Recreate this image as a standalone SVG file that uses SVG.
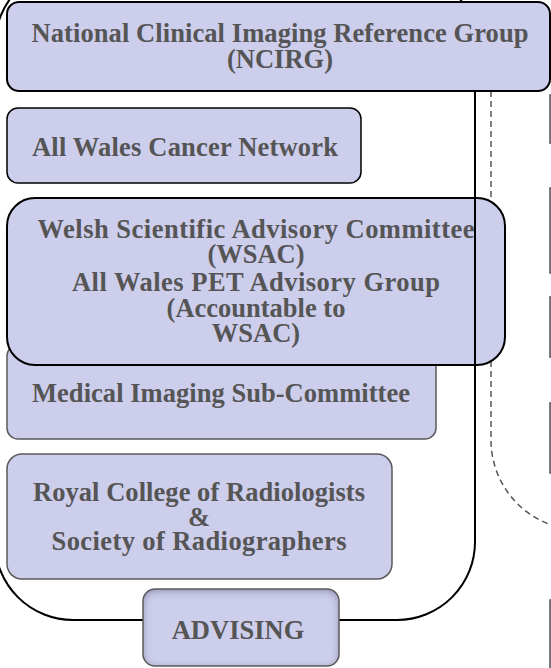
<svg xmlns="http://www.w3.org/2000/svg" width="551" height="668" viewBox="0 0 551 668">
  <style>
    .box { fill: #cdcdec; }
    .dark { stroke: #000; stroke-width: 2; }
    .gray { stroke: #5a5a5a; stroke-width: 1.5; }
    .lbl { font-family: "Liberation Serif", "Times New Roman", serif; font-weight: bold; font-size: 26.5px; fill: #555; text-anchor: middle; }
    .edge { fill: #cdcdec; stroke: #555; stroke-width: 1.5; }
  </style>
  <defs>
    <filter id="inset" x="-10%" y="-10%" width="120%" height="120%">
      <feGaussianBlur in="SourceAlpha" stdDeviation="4" result="blur"/>
      <feOffset in="blur" dy="2" result="oblur"/>
      <feComposite in="SourceAlpha" in2="oblur" operator="arithmetic" k2="1" k3="-1" result="ring"/>
      <feFlood flood-color="#4a4a78" flood-opacity="0.7"/>
      <feComposite in2="ring" operator="in" result="shadow"/>
      <feMerge><feMergeNode in="SourceGraphic"/><feMergeNode in="shadow"/></feMerge>
    </filter>
  </defs>

  <g id="connectors">
    <path id="dashed-boundary" d="M491,91 V440 A90,90 0 0 0 581,530" fill="none" stroke="#555" stroke-width="1.5" stroke-dasharray="6,4"/>
  </g>

  <g id="offscreen-right">
    <rect class="edge" x="550" y="95" width="40" height="48"/>
    <rect class="edge" x="550" y="188" width="40" height="85"/>
    <rect class="edge" x="550" y="297" width="40" height="60"/>
    <rect class="edge" x="550" y="403" width="40" height="70"/>
    <rect class="edge" x="550" y="600" width="40" height="80"/>
  </g>

  <g id="awcn">
    <rect class="box dark" x="7" y="108" width="354" height="75" rx="11" style="stroke-width:1.5"/>
    <text class="lbl" x="185" y="156" textLength="306" lengthAdjust="spacing">All Wales Cancer Network</text>
  </g>

  <g id="misc">
    <rect class="box gray" x="7" y="345" width="429" height="94" rx="11"/>
    <text class="lbl" x="221" y="402" textLength="378" lengthAdjust="spacing">Medical Imaging Sub-Committee</text>
  </g>

  <g id="rcr">
    <rect class="box gray" x="7" y="454" width="385" height="125" rx="15"/>
    <text class="lbl" x="199" y="501" textLength="332" lengthAdjust="spacing">Royal College of Radiologists</text>
    <text class="lbl" x="199" y="526">&amp;</text>
    <text class="lbl" x="199" y="550" textLength="295" lengthAdjust="spacing">Society of Radiographers</text>
  </g>

  <g id="wsac">
    <rect class="box dark" x="7" y="198" width="498" height="167" rx="28"/>
    <text class="lbl" x="256" y="238" textLength="437" lengthAdjust="spacing">Welsh Scientific Advisory Committee</text>
    <text class="lbl" x="256" y="263">(WSAC)</text>
    <text class="lbl" x="256" y="291" textLength="368" lengthAdjust="spacing">All Wales PET Advisory Group</text>
    <text class="lbl" x="256" y="317">(Accountable to</text>
    <text class="lbl" x="256" y="342">WSAC)</text>
  </g>

  <g id="advising-frame">
    <path d="M73,-33 H397 A78,78 0 0 1 475,45 V542 A78,78 0 0 1 397,620 H73 A78,78 0 0 1 -5,542 V45 A78,78 0 0 1 73,-33 Z" fill="none" stroke="#000" stroke-width="2"/>
  </g>

  <g id="ncirg">
    <rect class="box dark" x="7" y="2" width="543" height="89" rx="12"/>
    <text class="lbl" x="280" y="42" textLength="497" lengthAdjust="spacing">National Clinical Imaging Reference Group</text>
    <text class="lbl" x="280" y="68">(NCIRG)</text>
  </g>

  <g id="advising">
    <rect class="box" x="143" y="589" width="196" height="77" rx="12" filter="url(#inset)"/>
    <rect x="143" y="589" width="196" height="77" rx="12" fill="none" stroke="#5a5a5a" stroke-width="1.5"/>
    <text class="lbl" x="238" y="639">ADVISING</text>
  </g>
</svg>
